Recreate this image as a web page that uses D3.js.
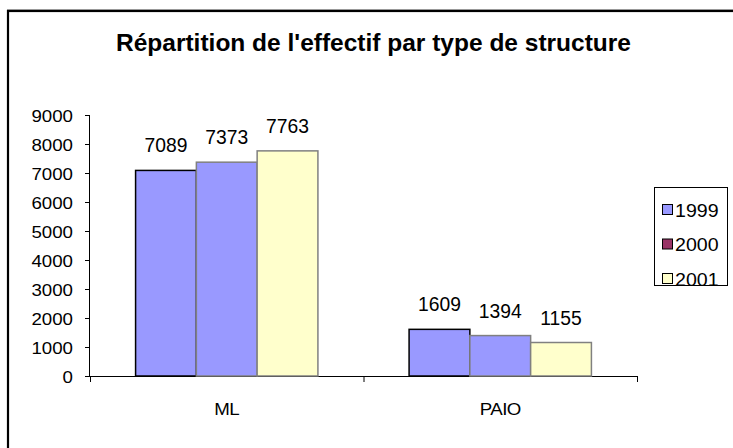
<!DOCTYPE html>
<html>
<head>
<meta charset="utf-8">
<script src="https://cdnjs.cloudflare.com/ajax/libs/d3/7.8.5/d3.min.js"></script>
<style>
body { margin: 0; background: #fff; }
text { font-family: "Liberation Sans", Arial, sans-serif; fill: #000; }
</style>
</head>
<body>
<script>
// ---------------- DATA ----------------
const categories = ["ML", "PAIO"];
const years = ["1999", "2000", "2001"];
const values1999 = [7089, 1609];
const values2000 = [7373, 1394];
const values2001 = [7763, 1155];
const yTicks = [0, 1000, 2000, 3000, 4000, 5000, 6000, 7000, 8000, 9000];

// bars drawn colors (2000 bars appear blue in the picture), legend colors
const barFill = ["#9999ff", "#9999ff", "#ffffcc"];
const barStroke = ["#000000", "#808080", "#808080"];
const legendFill = ["#9999ff", "#993366", "#ffffcc"];

const W = 733, H = 448;
const svg = d3.select("body").append("svg").attr("width", W).attr("height", H);

// outer frame
svg.append("line").attr("x1", 7).attr("x2", W).attr("y1", 9.5).attr("y2", 9.5)
  .attr("stroke", "#aaa").attr("stroke-width", 1);
svg.append("rect").attr("x", 8).attr("y", 11).attr("width", W + 10).attr("height", H + 10)
  .attr("fill", "none").attr("stroke", "#000").attr("stroke-width", 2.2);

// title
svg.append("text").attr("x", 373.5).attr("y", 51).attr("text-anchor", "middle")
  .style("font-size", "24.5px").style("font-weight", "bold")
  .text("Répartition de l'effectif par type de structure");

// ---------------- SCALES ----------------
const plotLeft = 90, plotRight = 637, plotTop = 115, plotBottom = 376;
const x0 = d3.scaleBand().domain(categories).range([plotLeft, plotRight]).paddingInner(0).paddingOuter(0);
const x1 = d3.scaleBand().domain(years).range([0, x0.bandwidth()]).paddingInner(0).paddingOuter(0.75);
const y = d3.scaleLinear().domain([0, 9000]).range([plotBottom, plotTop]);

const series = [values1999, values2000, values2001];

// ---------------- AXES ----------------
const sx = 1.1;
const yAxis = svg.append("g").attr("transform", "translate(" + plotLeft + ",0)")
  .call(d3.axisLeft(y).tickValues(yTicks).tickSize(5).tickFormat(d3.format("d")));
yAxis.select(".domain").attr("stroke", "#000").attr("d", "M-0.5," + plotTop + "V" + plotBottom);
yAxis.selectAll(".tick line").attr("stroke", "#000");
yAxis.selectAll(".tick text").style("font-size", "17px").attr("transform", "scale(" + sx + ",1)")
  .attr("x", -17 / sx).attr("dy", "0.36em");

// x axis: baseline with tick marks at category boundaries
const xg = svg.append("g");
xg.append("line").attr("x1", plotLeft).attr("x2", plotRight).attr("y1", plotBottom + 0.5).attr("y2", plotBottom + 0.5)
  .attr("stroke", "#000");
const bounds = [plotLeft].concat(categories.map(c => x0(c) + x0.bandwidth()));
xg.selectAll("line.tk").data(bounds).enter().append("line").attr("class", "tk")
  .attr("x1", d => d + 0.5).attr("x2", d => d + 0.5)
  .attr("y1", plotBottom).attr("y2", plotBottom + 6).attr("stroke", "#000");
xg.selectAll("text").data(categories).enter().append("text")
  .attr("transform", d => "translate(" + (x0(d) + x0.bandwidth() / 2) + ",415) scale(" + sx + ",1)")
  .attr("text-anchor", "middle").style("font-size", "17px").style("letter-spacing", "-0.5px")
  .text(d => d);

// ---------------- BARS ----------------
categories.forEach(function(cat, ci) {
  const g = svg.append("g").attr("transform", "translate(" + x0(cat) + ",0)");
  years.forEach(function(yr, si) {
    const v = series[si][ci];
    g.append("rect")
      .attr("x", x1(yr)).attr("y", y(v))
      .attr("width", x1.bandwidth()).attr("height", plotBottom - y(v))
      .attr("fill", barFill[si]).attr("stroke", barStroke[si]).attr("stroke-width", 1.5);
  });
  years.forEach(function(yr, si) {
    const v = series[si][ci];
    g.append("text")
      .attr("transform", "translate(" + (x1(yr) + x1.bandwidth() / 2) + "," + (y(v) - 18) + ") scale(0.92,1)")
      .attr("text-anchor", "middle").style("font-size", "21px")
      .text(v);
  });
});

// ---------------- LEGEND ----------------
const lg = svg.append("g");
lg.append("rect").attr("x", 654.5).attr("y", 187.5).attr("width", 73).attr("height", 98)
  .attr("fill", "#fff").attr("stroke", "#000");
years.forEach(function(yr, i) {
  const cy = 210 + i * 34.5;
  lg.append("rect").attr("x", 662.5).attr("y", cy - 5.5).attr("width", 10).attr("height", 10)
    .attr("fill", legendFill[i]).attr("stroke", "#000");
  lg.append("text").attr("transform", "translate(675," + (cy + 6.5) + ") scale(1.12,1)")
    .style("font-size", "17.5px").text(yr);
});
</script>
</body>
</html>
